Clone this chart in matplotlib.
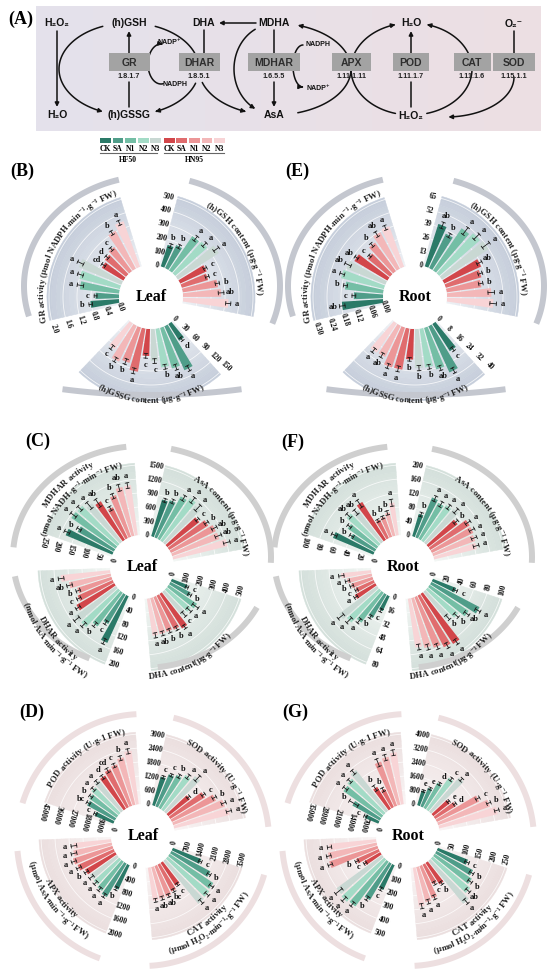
import numpy as np
import matplotlib
matplotlib.use('Agg')
import matplotlib.pyplot as plt
from matplotlib.path import Path
from matplotlib.patches import FancyArrowPatch, Rectangle
from matplotlib.font_manager import FontProperties
from matplotlib.colors import to_rgb

W, H = 550, 977
SERIF = ['Liberation Serif', 'DejaVu Serif']
SANS = ['Liberation Sans', 'DejaVu Sans']
plt.rcParams['font.family'] = SERIF
plt.rcParams['font.weight'] = 'bold'

# ---------------- data ----------------
groups = ['CK', 'SA', 'N1', 'N2', 'N3']
hf50_colors = ['#2b7a68', '#4f9d89', '#74bea5', '#a3dbc6', '#c9d8d3']
hn95_colors = ['#d2464a', '#e06c6e', '#ec9697', '#f3b7b8', '#f8d4d6']

# (B) leaf
gr_leaf = [0.82, 0.67, 1.13, 1.20, 1.32, 0.72, 0.78, 0.86, 1.23, 1.39]
gr_leaf_err = [0.05, 0.04, 0.09, 0.08, 0.09, 0.06, 0.05, 0.05, 0.06, 0.07]
gr_leaf_sig = ['b', 'c', 'a', 'a', 'a', 'cd', 'd', 'c', 'b', 'a']
gr_leaf_ticks = ['0.0', '0.4', '0.8', '1.2', '1.6', '2.0']
gsh_leaf = [162, 184, 297, 306, 349, 209, 198, 255, 273, 325]
gsh_leaf_err = [15, 14, 20, 18, 22, 12, 13, 15, 20, 18]
gsh_leaf_sig = ['b', 'b', 'a', 'a', 'a', 'c', 'c', 'b', 'ab', 'a']
gsh_leaf_ticks = ['0', '100', '200', '300', '400', '500']
gssg_leaf = [43, 104, 91, 84, 69, 58, 94, 80, 86, 68]
gssg_leaf_err = [4, 6, 6, 5, 5, 5, 6, 6, 5, 5]
gssg_leaf_sig = ['d', 'a', 'ab', 'b', 'c', 'c', 'a', 'b', 'b', 'c']
gssg_leaf_ticks = ['0', '30', '60', '90', '120', '150']

# (E) root
gr_root = [0.177, 0.125, 0.165, 0.190, 0.182, 0.165, 0.124, 0.152, 0.178, 0.186]
gr_root_err = [0.012, 0.008, 0.008, 0.010, 0.014, 0.008, 0.006, 0.009, 0.012, 0.010]
gr_root_sig = ['ab', 'c', 'b', 'a', 'ab', 'ab', 'c', 'b', 'ab', 'a']
gr_root_ticks = ['0.00', '0.06', '0.12', '0.18', '0.24', '0.30']
gsh_root = [41.5, 35.7, 47.4, 50.3, 51.8, 37.9, 34.6, 32.6, 41.2, 43.1]
gsh_root_err = [3.0, 2.0, 4.0, 3.5, 4.0, 2.5, 2.0, 2.0, 3.0, 3.0]
gsh_root_sig = ['ab', 'b', 'a', 'a', 'a', 'ab', 'b', 'b', 'a', 'a']
gsh_root_ticks = ['0', '13', '26', '39', '52', '65']
gssg_root = [18.5, 29.1, 24.8, 22.4, 22.4, 17.5, 23.9, 24.1, 20.0, 20.3]
gssg_root_err = [1.2, 1.6, 1.4, 1.3, 1.5, 1.0, 1.6, 1.4, 1.4, 1.4]
gssg_root_sig = ['c', 'a', 'ab', 'b', 'b', 'b', 'a', 'a', 'ab', 'a']
gssg_root_ticks = ['0', '8', '16', '24', '32', '40']

# (C) leaf
mdhar_leaf = [181, 148, 193, 191, 175, 163, 123, 159, 180, 181]
mdhar_leaf_err = [10, 8, 12, 10, 14, 16, 8, 9, 12, 10]
mdhar_leaf_sig = ['a', 'b', 'a', 'a', 'a', 'ab', 'c', 'b', 'ab', 'a']
mdhar_leaf_ticks = ['0', '50', '100', '150', '200', '250']
asa_leaf = [822, 865, 1039, 1113, 1057, 874, 987, 1072, 1080, 1204]
asa_leaf_err = [40, 45, 60, 70, 80, 40, 45, 60, 70, 70]
asa_leaf_sig = ['b', 'b', 'a', 'a', 'a', 'c', 'b', 'ab', 'ab', 'a']
asa_leaf_ticks = ['0', '300', '600', '900', '1200', '1500']
dha_leaf = [123, 165, 244, 226, 222, 296, 274, 267, 268, 269]
dha_leaf_err = [10, 12, 25, 20, 20, 14, 15, 15, 16, 18]
dha_leaf_sig = ['c', 'b', 'a', 'a', 'c', 'a', 'b', 'b', 'ab', 'a']
dha_leaf_ticks = ['0', '100', '200', '300', '400', '500']
dhar_leaf = [147, 98, 121, 143, 147, 125, 110, 103, 122, 142]
dhar_leaf_err = [8, 6, 7, 8, 9, 7, 6, 6, 8, 8]
dhar_leaf_sig = ['a', 'c', 'b', 'a', 'a', 'a', 'c', 'b', 'ab', 'a']
dhar_leaf_ticks = ['0', '40', '80', '120', '160', '200']

# (F) root
mdhar_root = [62.6, 40.0, 50.5, 61.0, 57.5, 64.0, 29.5, 30.7, 34.8, 47.4]
mdhar_root_err = [4, 3, 3, 4, 4, 6, 2, 2, 3, 5]
mdhar_root_sig = ['a', 'b', 'b', 'ab', 'ab', 'a', 'b', 'b', 'b', 'a']
mdhar_root_ticks = ['0', '20', '40', '60', '80', '100']
asa_root = [67, 124, 118, 124, 129, 107, 133, 132, 128, 126]
asa_root_err = [6, 8, 8, 7, 8, 7, 8, 8, 8, 8]
asa_root_sig = ['b', 'a', 'a', 'a', 'a', 'b', 'a', 'a', 'a', 'a']
asa_root_ticks = ['0', '40', '80', '120', '160', '200']
dha_root = [36.0, 77.7, 67.0, 57.0, 50.5, 85.5, 83.0, 77.8, 74.0, 70.8]
dha_root_err = [3, 4, 4, 4, 4, 4, 4, 4, 4, 4]
dha_root_sig = ['c', 'a', 'ab', 'b', 'b', 'a', 'a', 'a', 'a', 'a']
dha_root_ticks = ['0', '20', '40', '60', '80', '100']
dhar_root = [19.0, 31.4, 42.8, 50.0, 54.2, 27.2, 22.7, 25.8, 28.9, 34.6]
dhar_root_err = [2.0, 2.0, 3.0, 4.0, 4.0, 2.0, 1.5, 2.0, 2.5, 3.0]
dhar_root_sig = ['c', 'b', 'a', 'a', 'a', 'a', 'c', 'b', 'a', 'a']
dhar_root_ticks = ['0', '16', '32', '48', '64', '80']

# (D) leaf
pod_leaf = [13200, 20400, 21500, 23300, 25100, 25300, 27300, 28400, 31500, 34700]
pod_leaf_err = [900, 1200, 1100, 1300, 1200, 1400, 1500, 1300, 1500, 1600]
pod_leaf_sig = ['c', 'bc', 'b', 'a', 'a', 'd', 'cd', 'c', 'b', 'a']
pod_leaf_ticks = ['0', '9000', '18000', '27000', '36000', '45000']
sod_leaf = [1290, 1500, 1620, 1820, 2030, 1190, 1760, 2100, 2360, 2460]
sod_leaf_err = [60, 60, 80, 100, 150, 70, 80, 90, 100, 110]
sod_leaf_sig = ['c', 'c', 'b', 'a', 'a', 'd', 'c', 'b', 'a', 'a']
sod_leaf_ticks = ['0', '600', '1200', '1800', '2400', '3000']
cat_leaf = [1530, 2210, 2630, 2720, 2780, 1370, 1520, 1640, 1650, 1680]
cat_leaf_err = [80, 90, 110, 120, 120, 70, 80, 80, 90, 90]
cat_leaf_sig = ['c', 'b', 'a', 'a', 'a', 'c', 'bc', 'ab', 'ab', 'a']
cat_leaf_ticks = ['0', '700', '1400', '2100', '2800', '3500']
apx_leaf = [770, 1115, 1045, 990, 970, 1000, 1130, 1190, 1120, 1080]
apx_leaf_err = [50, 60, 60, 60, 70, 60, 70, 70, 80, 80]
apx_leaf_sig = ['b', 'a', 'a', 'a', 'a', 'b', 'a', 'a', 'a', 'a']
apx_leaf_ticks = ['0', '400', '800', '1200', '1600', '2000']

# (G) root
pod_root = [7460, 15700, 23300, 24100, 26000, 13000, 10300, 23600, 24800, 26300]
pod_root_err = [700, 2500, 1200, 1100, 1200, 1500, 1000, 2000, 1500, 1400]
pod_root_sig = ['c', 'b', 'a', 'a', 'a', 'b', 'b', 'a', 'a', 'a']
pod_root_ticks = ['0', '7000', '14000', '21000', '28000', '35000']
sod_root = [890, 1160, 1650, 2240, 2600, 1200, 1410, 2690, 3150, 3450]
sod_root_err = [60, 70, 80, 100, 100, 70, 80, 120, 120, 130]
sod_root_sig = ['e', 'e', 'd', 'c', 'a', 'e', 'd', 'c', 'b', 'a']
sod_root_ticks = ['0', '800', '1600', '2400', '3200', '4000']
cat_root = [116, 148, 160, 175, 198, 92, 79, 124, 131, 141]
cat_root_err = [8, 8, 8, 9, 10, 6, 6, 8, 8, 9]
cat_root_sig = ['c', 'b', 'b', 'ab', 'a', 'b', 'c', 'a', 'a', 'a']
cat_root_ticks = ['0', '50', '100', '150', '200', '250']
apx_root = [196, 304, 400, 413, 404, 133, 178, 363, 355, 338]
apx_root_err = [12, 15, 18, 20, 30, 10, 12, 16, 16, 15]
apx_root_sig = ['c', 'b', 'a', 'a', 'a', 'c', 'b', 'a', 'a', 'a']
apx_root_ticks = ['0', '100', '200', '300', '400', '500']

# ---------------- layout (pixels) ----------------
HOLE = 32.0     # radius where a bar starts
SPAN = 70.0     # pixels from 0 to the top tick
RAX = 150.0
THEMES = {
    'blue': dict(inner='#eef1f5', outer='#c6cedb', arc='#c4c7cf'),
    'green': dict(inner='#f2f6f4', outer='#d4e0db', arc='#cfcfcf'),
    'pink': dict(inner='#f9f4f4', outer='#ebdfdf', arc='#eddfe0'),
}

fig = plt.figure(figsize=(W / 100, H / 100), dpi=100)
renderer = fig.canvas.get_renderer()


def px_rect(cx, cy, rx, ry):
    return [(cx - rx) / W, 1 - (cy + ry) / H, 2 * rx / W, 2 * ry / H]


def advance(ch, fp):
    w1 = renderer.get_text_width_height_descent('H' + ch + 'H', fp, ismath=False)[0]
    w0 = renderer.get_text_width_height_descent('HH', fp, ismath=False)[0]
    return w1 - w0


def curved_text(ax, s, theta_deg, r, flip, size):
    fp = FontProperties(family=SERIF, weight='bold', size=size)
    tc = np.deg2rad(theta_deg)
    ths = tc + np.linspace(-1.9, 1.9, 3000)
    pts = ax.transData.transform(np.column_stack([ths, np.full(ths.size, r)]))
    arc = np.concatenate([[0], np.cumsum(np.hypot(*np.diff(pts, axis=0).T))])
    arc -= np.interp(tc, ths, arc)
    widths = np.array([advance(c, fp) for c in s])
    centers = np.cumsum(widths) - widths / 2 - widths.sum() / 2
    sign = 1 if flip else -1
    for ch, c in zip(s, centers):
        th = np.interp(sign * c, arc, ths)
        p0 = ax.transData.transform((th - 0.0005, r))
        p1 = ax.transData.transform((th + 0.0005, r))
        d = (p1 - p0) * sign
        rot = np.degrees(np.arctan2(d[1], d[0]))
        ax.text(th, r, ch, rotation=rot, rotation_mode='anchor', ha='center',
                va='baseline', fontproperties=fp, color='#222222', clip_on=False)


def draw_sector(hub, sec, step, theme):
    vmax = float(sec['ticks'][-1])
    ax = fig.add_axes(px_rect(hub[0], hub[1], RAX, RAX), projection='polar')
    ax.set_aspect('auto')
    ax.set_axis_off()
    ax.set_rorigin(-vmax * HOLE / SPAN)
    ax.set_ylim(0, vmax * (RAX - HOLE) / SPAN)
    vals = np.array(sec['vals'], dtype=float)
    errs = np.array(sec['err'], dtype=float)
    th0 = np.deg2rad(sec['ck'])
    st = np.deg2rad(step)
    thetas = th0 - st * np.arange(len(vals))

    # shaded sector behind the bars
    w0 = th0 + np.deg2rad(6)
    w1 = thetas[-1] - np.deg2rad(6)
    top = vmax * 1.03
    n = 16
    c_in, c_out = np.array(to_rgb(theme['inner'])), np.array(to_rgb(theme['outer']))
    for k in range(n):
        col = c_in + (c_out - c_in) * (k / (n - 1))
        ax.bar((w0 + w1) / 2, top / n, width=w0 - w1, bottom=k * top / n,
               color=col, edgecolor=col, linewidth=0.3, zorder=1)
    tick_vals = [float(t) for t in sec['ticks']]
    arc_th = np.linspace(w1, w0, 80)
    for t in tick_vals[1:]:
        ax.plot(arc_th, np.full(80, t), color='white', lw=0.6, alpha=0.8, zorder=2)

    ax.bar(thetas, vals, width=st * 0.8, bottom=0,
           color=hf50_colors + hn95_colors, linewidth=0, zorder=3)

    for th, v, e, s in zip(thetas, vals, errs, sec['sig']):
        ax.plot([th, th], [v - e, v + e], color='#1a1a1a', lw=0.6, zorder=4)
        for rv in (v - e, v + e):
            rpx = HOLE + rv * SPAN / vmax
            dth = 1.8 / rpx
            ax.plot([th - dth, th + dth], [rv, rv], color='#1a1a1a', lw=0.6, zorder=4)
        ax.text(th, v + e + 6.5 * vmax / SPAN, s, ha='center', va='center',
                fontsize=6, color='#111111', zorder=5, clip_on=False)

    tth = th0 + np.deg2rad(11)
    deg = np.degrees(tth)
    rot = {'out': deg + 90, 'in': deg - 90, 'rad': deg}[sec['trot']]
    rot = (rot + 180) % 360 - 180
    for t, lab in zip(tick_vals, sec['ticks']):
        ax.text(tth, t, lab, rotation=rot, rotation_mode='anchor', ha='center',
                va='center', fontsize=5.5, color='#111111', clip_on=False)


def ring_axes(geom, rmax):
    acx, acy, rx, ry = geom
    ax = fig.add_axes(px_rect(acx, acy, rx * rmax, ry * rmax), projection='polar')
    ax.set_aspect('auto')
    ax.set_axis_off()
    ax.set_ylim(0, rmax)
    return ax


def draw_panel(p):
    theme = THEMES[p['theme']]
    step = 8.2 if len(p['sectors']) == 3 else 6.1
    for sec in p['sectors']:
        draw_sector(p['hub'], sec, step, theme)
    # grey arcs (slightly squashed ring)
    main_ring = ring_axes(p['ring'], 1.25)
    for sec in p['sectors']:
        aax = ring_axes(sec['ring'], 1.05) if 'ring' in sec else main_ring
        th = np.deg2rad(np.linspace(sec['arc'][0], sec['arc'][1], 120))
        aax.plot(th, np.ones_like(th), color=theme['arc'], lw=4.3, solid_capstyle='butt')
    # curved axis titles, on a circle round the hub (radius in pixels)
    lab = ring_axes((p['hub'][0], p['hub'][1], 1, 1), 150)
    for sec in p['sectors']:
        tdeg, radii = sec['tpos']
        for line, rr in zip(sec['title'], radii):
            curved_text(lab, line, tdeg, rr, sec['flip'], 6.3)
    axA.text(p['hub'][0], p['hub'][1], p['organ'], ha='center', va='center',
             fontsize=11.5, fontweight='bold', family=SERIF)
    axA.text(p['tag_xy'][0], p['tag_xy'][1], p['tag'], ha='center', va='center',
             fontsize=13, fontweight='bold', family=SERIF)


# ---------------- panel A (pathway) ----------------
axA = fig.add_axes([0, 0, 1, 1])
axA.set_xlim(0, W)
axA.set_ylim(H, 0)
axA.set_axis_off()

grad = np.linspace(0, 1, 200)[None, :]
bg = np.array(to_rgb('#e4e2ec'))[None, None, :] * (1 - grad[..., None]) + \
    np.array(to_rgb('#eddfe3'))[None, None, :] * grad[..., None]
axA.imshow(bg, extent=(36, 541, 131, 6), aspect='auto', zorder=0)
axA.text(21, 19, '(A)', fontsize=13, fontweight='bold', family=SERIF, ha='center', va='center')


def metab(x, y, s, size=7.5):
    axA.text(x, y, s, ha='center', va='center', fontsize=size, fontweight='bold',
             family=SANS, color='#111111', zorder=4)


enzymes = [('GR', 129, 41, '1.8.1.7'), ('DHAR', 199, 41, '1.8.5.1'),
           ('MDHAR', 274, 52, '1.6.5.5'), ('APX', 351, 39, '1.11.1.11'),
           ('POD', 411, 36, '1.11.1.7'), ('CAT', 472, 37, '1.11.1.6'),
           ('SOD', 514, 42, '1.15.1.1')]


def ell_path(cx, cy, rx, ry, t0, t1, n=60):
    t = np.deg2rad(np.linspace(t0, t1, n))
    return Path(np.column_stack([cx + rx * np.cos(t), cy + ry * np.sin(t)]))


def connect(path, head=True):
    style = '-|>' if head else '-'
    axA.add_patch(FancyArrowPatch(path=path, arrowstyle=style, mutation_scale=6,
                                  lw=1.1, color='#111111', zorder=2,
                                  shrinkA=0, shrinkB=0))


def straight(p0, p1, head=True):
    connect(Path([p0, p1]), head)


# circles of the cycle
connect(ell_path(129, 69, 70, 46, -112, -248))          # GSH -> GSSG (left)
connect(ell_path(129, 69, 70, 46, -68, -5), head=False)  # GSH -> DHAR
connect(ell_path(129, 69, 70, 46, 18, 68))              # DHAR -> GSSG
connect(ell_path(274, 69, 75, 46, 163, 112))            # DHAR -> AsA
connect(ell_path(274, 69, 40, 45, -118, -242))          # MDHA -> AsA
connect(ell_path(274, 69, 77, 46, 0, -72))              # APX -> MDHA
connect(ell_path(274, 69, 77, 46, 72, 0), head=False)   # AsA -> APX
connect(ell_path(411, 69, 60, 46, 180, 255))            # APX -> H2O
connect(ell_path(411, 69, 60, 46, 105, 180), head=False)
connect(ell_path(411, 69, 61, 46, 75, 0), head=False)   # H2O2 -> CAT
connect(ell_path(411, 69, 61, 46, 0, -75))              # CAT -> H2O
connect(ell_path(446, 77, 68, 40, 0, 88))               # SOD -> H2O2
connect(ell_path(161, 64, 13, 20, 80, 278))             # NADPH -> NADP+
connect(ell_path(303, 66, 10, 21, -90, -270))           # NADPH -> NADP+
straight((57, 31), (57, 107))
straight((129, 53), (129, 31))
straight((129, 82), (129, 107), head=False)
straight((256, 23), (219, 23))
straight((204, 30), (204, 53), head=False)
straight((274, 30), (274, 53), head=False)
straight((274, 82), (274, 107))
straight((411, 107), (411, 82), head=False)
straight((411, 53), (411, 31))
straight((514, 31), (514, 53), head=False)

for name, x, w, ec in enzymes:
    axA.add_patch(Rectangle((x - w / 2, 53), w, 18, facecolor='#a3a3a3',
                            edgecolor='none', zorder=3))
    axA.text(x, 62.5, name, ha='center', va='center', fontsize=7.5, fontweight='bold',
             family=SANS, color='#2e2e2e', zorder=4)
    axA.text(x, 76, ec, ha='center', va='center', fontsize=5.2, fontweight='bold',
             family=SANS, color='#222222', zorder=4)

metab(57, 23, 'H₂O₂')
metab(57, 115, 'H₂O')
metab(129, 23, '(h)GSH')
metab(129, 115, '(h)GSSG')
metab(204, 23, 'DHA')
metab(274, 23, 'MDHA')
metab(274, 115, 'AsA')
metab(411, 23, 'H₂O')
metab(411, 116, 'H₂O₂')
metab(514, 24, 'O₂⁻')
metab(169, 43, 'NADP⁺', 5)
metab(175, 85, 'NADPH', 5)
metab(318, 44, 'NADPH', 5)
metab(318, 88, 'NADP⁺', 5)

# legend
for i, col in enumerate(hf50_colors + hn95_colors):
    x0 = 100 + i * 12.6 + (0.8 if i >= 5 else 0)
    axA.add_patch(Rectangle((x0, 137.5), 10.7, 5.3, facecolor=col, edgecolor='none'))
    axA.text(x0 + 5.3, 148.7, groups[i % 5], ha='center', va='center', fontsize=5.5,
             fontweight='bold', family=SERIF)
axA.plot([100, 157], [153.3, 153.3], color='#666666', lw=0.8)
axA.plot([164, 224], [153.3, 153.3], color='#666666', lw=0.8)
axA.text(128, 159.5, 'HF50', ha='center', va='center', fontsize=5.5, fontweight='bold', family=SERIF)
axA.text(194, 159.5, 'HN95', ha='center', va='center', fontsize=5.5, fontweight='bold', family=SERIF)


# ---------------- radial panels ----------------
def three(tag, tag_xy, hub, organ, data):
    (g, ge, gs, gt), (h, he, hs, ht), (q, qe, qs, qt) = data
    big = (hub[0] + 1, hub[1] - 597, 695, 695)   # the flat lower arc
    return dict(tag=tag, tag_xy=tag_xy, hub=hub, organ=organ, theme='blue',
                ring=(hub[0] + 1, hub[1] - 11, 128, 110), sectors=[
        dict(vals=g, err=ge, sig=gs, ticks=gt, ck=187, trot='out', arc=(196, 105),
             title=['GR activity (μmol NADPH·min⁻¹·g⁻¹ FW)'], tpos=(151, [107]), flip=False),
        dict(vals=h, err=he, sig=hs, ticks=ht, ck=69, trot='in', arc=(73, -20),
             title=['(h)GSH content (μg·g⁻¹ FW)'], tpos=(30, [106]), flip=False),
        dict(vals=q, err=qe, sig=qs, ticks=qt, ck=-54, trot='rad', arc=(-82.6, -97.4),
             ring=big, title=['(h)GSSG content (μg·g⁻¹ FW)'], tpos=(-90, [106]), flip=True)])


def four(tag, tag_xy, hub, organ, theme, ring, arcs, tpos, titles, data):
    secs = []
    cks = [155, 71, -24, -117]
    trots = ['out', 'in', 'out', 'out']
    flips = [False, False, True, True]
    for i in range(4):
        v, e, s, t = data[i]
        secs.append(dict(vals=v, err=e, sig=s, ticks=t, ck=cks[i], trot=trots[i],
                         arc=arcs[i], title=titles[i], tpos=tpos[i], flip=flips[i]))
    return dict(tag=tag, tag_xy=tag_xy, hub=hub, organ=organ, theme=theme,
                ring=ring, sectors=secs)


asc_titles = [['MDHAR activity', '(nmol NADH·g⁻¹·min⁻¹ FW)'], ['AsA content (μg·g⁻¹ FW)'],
              ['DHA content(μg·g⁻¹ FW)'], ['DHAR activity', '(nmol AsA·min⁻¹·g⁻¹ FW)']]
asc_arcs = [(175, 97), (77, -3), (-27, -83), (-114, -170)]
asc_tpos = [(132, [112, 101]), (33, [101]), (-62, [112]), (220, [115, 124])]
enz_titles = [['POD activity (U·g-1 FW)'], ['SOD activity (U·g⁻¹ FW)'],
              ['CAT activity', '(μmol H₂O₂·min⁻¹·g⁻¹ FW)'],
              ['APX activity', '(μmol AsA·min⁻¹·g⁻¹ FW)']]
enz_arcs = [(163, 93), (76, 6), (-16, -87), (-110, -175)]
enz_tpos = [(126, [103]), (39, [101]), (-53, [110, 120]), (217, [107, 117])]

panels = [
    three('(B)', (22, 171), (151, 297), 'Leaf',
          [(gr_leaf, gr_leaf_err, gr_leaf_sig, gr_leaf_ticks),
           (gsh_leaf, gsh_leaf_err, gsh_leaf_sig, gsh_leaf_ticks),
           (gssg_leaf, gssg_leaf_err, gssg_leaf_sig, gssg_leaf_ticks)]),
    three('(E)', (297, 171), (415, 297), 'Root',
          [(gr_root, gr_root_err, gr_root_sig, gr_root_ticks),
           (gsh_root, gsh_root_err, gsh_root_sig, gsh_root_ticks),
           (gssg_root, gssg_root_err, gssg_root_sig, gssg_root_ticks)]),
    four('(C)', (38, 441), (142, 567), 'Leaf', 'green', (142, 557, 129, 111),
         asc_arcs, asc_tpos, asc_titles,
         [(mdhar_leaf, mdhar_leaf_err, mdhar_leaf_sig, mdhar_leaf_ticks),
          (asa_leaf, asa_leaf_err, asa_leaf_sig, asa_leaf_ticks),
          (dha_leaf, dha_leaf_err, dha_leaf_sig, dha_leaf_ticks),
          (dhar_leaf, dhar_leaf_err, dhar_leaf_sig, dhar_leaf_ticks)]),
    four('(F)', (293, 442), (403, 567), 'Root', 'green', (403, 557, 129, 111),
         asc_arcs, asc_tpos, asc_titles,
         [(mdhar_root, mdhar_root_err, mdhar_root_sig, mdhar_root_ticks),
          (asa_root, asa_root_err, asa_root_sig, asa_root_ticks),
          (dha_root, dha_root_err, dha_root_sig, dha_root_ticks),
          (dhar_root, dhar_root_err, dhar_root_sig, dhar_root_ticks)]),
    four('(D)', (32, 712), (143, 836), 'Leaf', 'pink', (143, 840, 126, 126),
         enz_arcs, enz_tpos, enz_titles,
         [(pod_leaf, pod_leaf_err, pod_leaf_sig, pod_leaf_ticks),
          (sod_leaf, sod_leaf_err, sod_leaf_sig, sod_leaf_ticks),
          (cat_leaf, cat_leaf_err, cat_leaf_sig, cat_leaf_ticks),
          (apx_leaf, apx_leaf_err, apx_leaf_sig, apx_leaf_ticks)]),
    four('(G)', (295, 712), (408, 836), 'Root', 'pink', (408, 840, 126, 126),
         enz_arcs, enz_tpos, enz_titles,
         [(pod_root, pod_root_err, pod_root_sig, pod_root_ticks),
          (sod_root, sod_root_err, sod_root_sig, sod_root_ticks),
          (cat_root, cat_root_err, cat_root_sig, cat_root_ticks),
          (apx_root, apx_root_err, apx_root_sig, apx_root_ticks)]),
]

for p in panels:
    draw_panel(p)

fig.savefig('out.png', dpi=100)
